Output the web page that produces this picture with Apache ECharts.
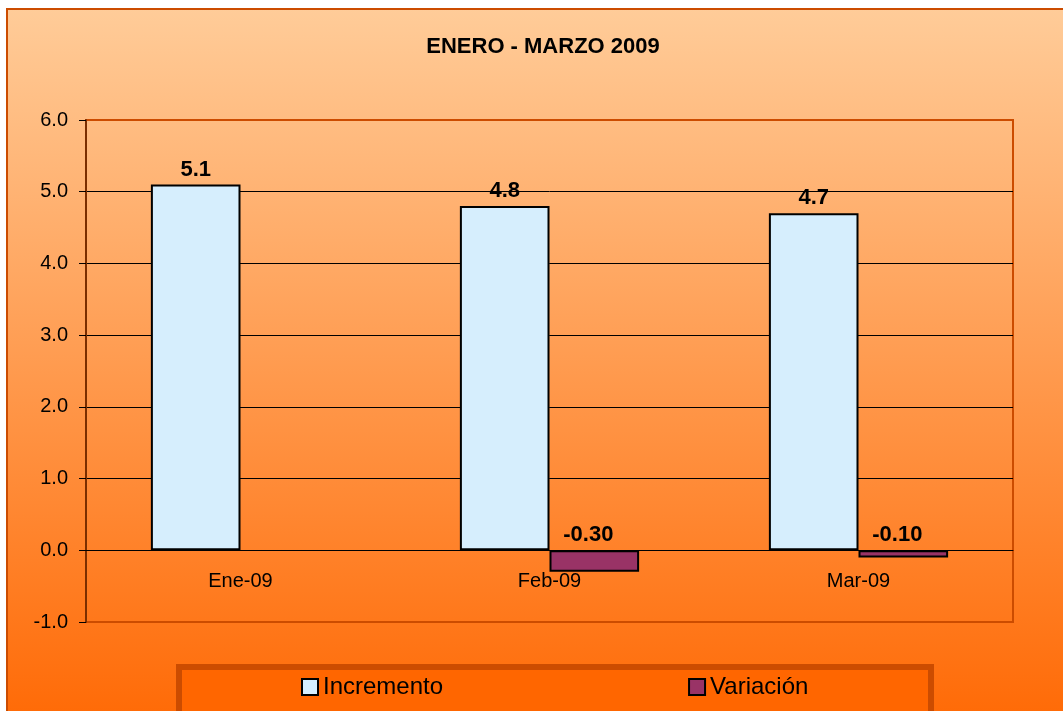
<!DOCTYPE html>
<html>
<head>
<meta charset="utf-8">
<script src="https://cdn.jsdelivr.net/npm/echarts@6/dist/echarts.min.js"></script>
<style>
  html, body { margin: 0; padding: 0; background: #fff; }
  #chart { width: 1063px; height: 711px; }
</style>
</head>
<body>
<div id="chart"></div>
<script>
// datos del gráfico
const titleText = 'ENERO - MARZO 2009'
const months = ['Ene-09', 'Feb-09', 'Mar-09']
const incremento = [5.1, 4.8, 4.7]
const variacion = ['-', -0.30, -0.10]
const yMin = -1
const yMax = 6
const yStep = 1

const border = '#CC4C00'
const font = 'Liberation Sans, Arial, sans-serif'

const myChart = echarts.init(document.getElementById('chart'))
myChart.setOption({
  animation: false,
  textStyle: { fontFamily: font },
  graphic: [
    {
      type: 'rect',
      z: -10,
      shape: { x: 7, y: 9, width: 1120, height: 740 },
      style: {
        fill: new echarts.graphic.LinearGradient(0, 0, 0, 1, [
          { offset: 0, color: '#FFCC99' },
          { offset: 1, color: '#FF6600' }
        ]),
        stroke: border,
        lineWidth: 2
      }
    },
    {
      type: 'rect',
      z: -5,
      shape: { x: 179, y: 667, width: 752, height: 70 },
      style: { fill: '#FF6600', stroke: border, lineWidth: 6 }
    }
  ],
  title: {
    text: titleText,
    left: 538,
    textAlign: 'center',
    top: 31,
    textStyle: { fontFamily: font, fontSize: 22, fontWeight: 'bold', color: '#000' }
  },
  legend: {
    data: ['Incremento', 'Variación'],
    left: 301,
    top: 675,
    padding: 0,
    icon: 'rect',
    itemWidth: 16,
    itemHeight: 16,
    itemGap: 245,
    textStyle: { fontFamily: font, fontSize: 24, color: '#000' }
  },
  grid: {
    left: 86,
    top: 120,
    right: 50,
    bottom: 89,
    show: true,
    backgroundColor: 'transparent',
    borderColor: border,
    borderWidth: 2
  },
  xAxis: {
    type: 'category',
    data: months,
    offset: -72,
    axisLine: { onZero: false, lineStyle: { color: '#000', width: 1 } },
    axisTick: { show: false },
    axisLabel: { margin: 21, fontFamily: font, fontSize: 20, color: '#000' }
  },
  yAxis: {
    type: 'value',
    min: yMin,
    max: yMax,
    interval: yStep,
    axisLine: { show: true, lineStyle: { color: '#7A2E00', width: 2 } },
    axisTick: { show: true, inside: false, length: 7, lineStyle: { color: '#000' } },
    axisLabel: {
      margin: 18,
      fontFamily: font,
      fontSize: 20,
      color: '#000',
      formatter: (v) => v.toFixed(1)
    },
    splitLine: {
      show: true,
      lineStyle: {
        color: [border, '#000', '#000', '#000', '#000', '#000', '#000', border],
        width: 1
      }
    }
  },
  series: [
    {
      name: 'Incremento',
      type: 'bar',
      data: incremento,
      barWidth: '29%',
      barGap: '0%',
      itemStyle: { color: '#D6EEFD', borderColor: '#000', borderWidth: 2 },
      label: {
        show: true,
        position: 'top',
        distance: 4,
        fontFamily: font,
        fontSize: 22,
        fontWeight: 'bold',
        color: '#000',
        formatter: (p) => p.value.toFixed(1)
      }
    },
    {
      name: 'Variación',
      type: 'bar',
      data: variacion,
      barWidth: '29%',
      itemStyle: { color: '#993366', borderColor: '#000', borderWidth: 2 },
      label: {
        show: true,
        position: 'top',
        distance: 4,
        offset: [-6, 0],
        fontFamily: font,
        fontSize: 22,
        fontWeight: 'bold',
        color: '#000',
        formatter: (p) => p.value.toFixed(2)
      }
    }
  ]
})
</script>
</body>
</html>
